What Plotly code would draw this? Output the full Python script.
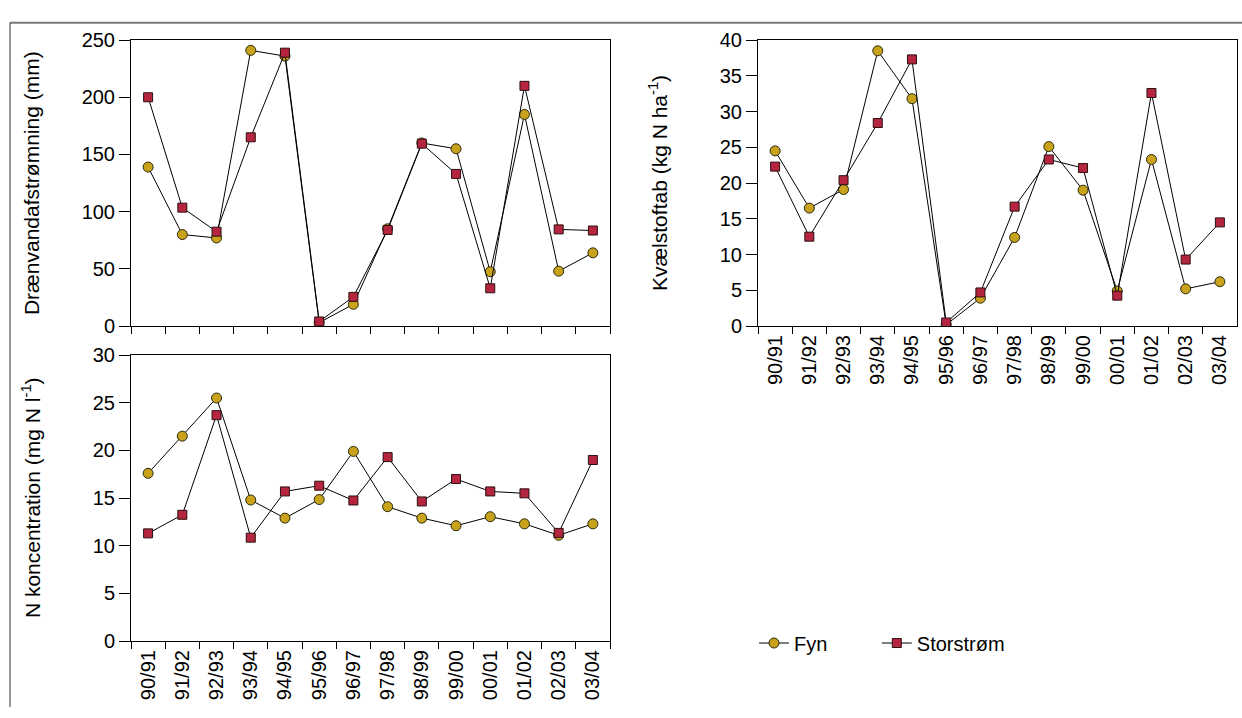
import plotly.graph_objects as go

seasons = ["90/91", "91/92", "92/93", "93/94", "94/95", "95/96", "96/97",
           "97/98", "98/99", "99/00", "00/01", "01/02", "02/03", "03/04"]

# Drænvandafstrømning (mm)
drain_fyn = [139, 80, 77, 241, 236, 3, 19, 85, 160, 155, 47.5, 185, 48, 64]
drain_stor = [200, 103.5, 82.5, 165, 239, 4, 25.5, 84, 159.5, 133, 33, 210, 84.5, 83.5]

# Kvælstoftab (kg N ha-1)
loss_fyn = [24.5, 16.5, 19.1, 38.5, 31.8, 0.2, 3.9, 12.4, 25.1, 19.0, 4.9, 23.3, 5.2, 6.2]
loss_stor = [22.3, 12.5, 20.4, 28.4, 37.3, 0.5, 4.7, 16.7, 23.3, 22.1, 4.25, 32.6, 9.3, 14.5]

# N koncentration (mg N l-1)
conc_fyn = [17.6, 21.5, 25.5, 14.8, 12.9, 14.85, 19.9, 14.1, 12.9, 12.1, 13.05, 12.3, 11.1, 12.3]
conc_stor = [11.3, 13.25, 23.7, 10.85, 15.7, 16.3, 14.75, 19.3, 14.65, 17.0, 15.7, 15.5, 11.35, 19.0]

series_names = ["Fyn", "Storstrøm"]

FONT = "Liberation Sans, Arial, Helvetica, sans-serif"
FYN_COLOR = "#C9A21B"
STOR_COLOR = "#B5253F"

W, H = 1242, 718


def px_x(x):
    return x / W


def px_y(y):
    return 1 - y / H


fig = go.Figure()

panels = [
    ("x", "y", drain_fyn, drain_stor, True),
    ("x2", "y2", loss_fyn, loss_stor, False),
    ("x3", "y3", conc_fyn, conc_stor, False),
]

# pad the first legend entry with non-breaking spaces so the second entry sits further right
legend_labels = [series_names[0] + "\u00a0" * 8, series_names[1]]

for xa, ya, fyn, stor, show_leg in panels:
    fig.add_trace(go.Scatter(
        x=seasons, y=fyn, xaxis=xa, yaxis=ya, name=legend_labels[0],
        mode="lines+markers", showlegend=show_leg,
        line=dict(color="black", width=1),
        marker=dict(symbol="circle", size=10, color=FYN_COLOR,
                    line=dict(color="#2a2a10", width=1)),
    ))
    fig.add_trace(go.Scatter(
        x=seasons, y=stor, xaxis=xa, yaxis=ya, name=legend_labels[1],
        mode="lines+markers", showlegend=show_leg,
        line=dict(color="black", width=1),
        marker=dict(symbol="square", size=9, color=STOR_COLOR,
                    line=dict(color="#2a1010", width=1)),
    ))

common_x = dict(
    type="category", categoryorder="array", categoryarray=seasons,
    range=[-0.5, 13.5], tickson="boundaries", ticks="outside", ticklen=7,
    tickcolor="black", tickwidth=1, showline=True, linecolor="black",
    linewidth=1, mirror=True, showgrid=False, zeroline=False,
    tickangle=-90, tickfont=dict(family=FONT, size=20, color="black"),
)
common_y = dict(
    ticks="outside", ticklen=11, tickcolor="black", tickwidth=1,
    showline=True, linecolor="black", linewidth=1, mirror=True,
    showgrid=False, zeroline=False,
    tickfont=dict(family=FONT, size=20, color="black"),
)

top_dom = [px_y(325), px_y(30)]
bot_dom = [px_y(650), px_y(355)]
left_dom = [px_x(131), px_x(610)]
right_dom = [px_x(758), px_x(1237)]

fig.update_layout(
    width=W, height=H,
    margin=dict(l=0, r=0, t=0, b=0),
    paper_bgcolor="white", plot_bgcolor="white",
    font=dict(family=FONT, size=20, color="black"),
    xaxis=dict(common_x, domain=left_dom, anchor="y", showticklabels=False),
    yaxis=dict(common_y, domain=top_dom, anchor="x", range=[0, 250], dtick=50),
    xaxis2=dict(common_x, domain=right_dom, anchor="y2"),
    yaxis2=dict(common_y, domain=top_dom, anchor="x2", range=[0, 40], dtick=5),
    xaxis3=dict(common_x, domain=left_dom, anchor="y3"),
    yaxis3=dict(common_y, domain=bot_dom, anchor="x3", range=[0, 30], dtick=5),
    legend=dict(
        orientation="h", x=px_x(754), xanchor="left", y=px_y(652),
        yanchor="middle", font=dict(family=FONT, size=20, color="black"),
        bgcolor="rgba(0,0,0,0)",
    ),
    showlegend=True,
)

titles = [
    ("Drænvandafstrømning (mm)", 31, 177.5),
    ("Kvælstoftab (kg N ha<sup>-1</sup>)", 658, 177.5),
    ("N koncentration (mg N l<sup>-1</sup>)", 31, 502.5),
]
for text, cx, cy in titles:
    fig.add_annotation(
        text=text, xref="paper", yref="paper", x=px_x(cx), y=px_y(cy),
        xanchor="center", yanchor="middle", textangle=-90, showarrow=False,
        font=dict(family=FONT, size=21, color="black"),
    )

# page frame (top and left border)
fig.add_shape(type="line", xref="paper", yref="paper",
              x0=px_x(10), x1=1, y0=px_y(12), y1=px_y(12),
              line=dict(color="#777777", width=2))
fig.add_shape(type="line", xref="paper", yref="paper",
              x0=px_x(10), x1=px_x(10), y0=px_y(12), y1=0,
              line=dict(color="#333333", width=1))

fig.write_html("out.html")
